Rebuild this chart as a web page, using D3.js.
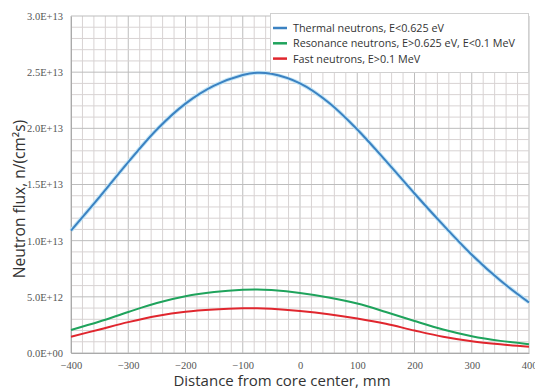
<!DOCTYPE html>
<html>
<head>
<meta charset="utf-8">
<script src="https://cdn.jsdelivr.net/npm/d3@7"></script>
<style>
  body { margin: 0; background: #fff; }
  svg { display: block; }
</style>
</head>
<body>
<script>
// ------------------------------------------ Data ------------------------------------------//
var distance = [-400, -350, -300, -250, -200, -150, -100, -75, -50, 0, 50, 100, 150, 200, 250, 300, 350, 400];

// flux values in units of 1E+12 n/(cm2 s)
var thermal   = [10.9, 13.9, 17.0, 19.9, 22.2, 23.8, 24.75, 24.95, 24.85, 24.0, 22.3, 19.9, 17.1, 14.2, 11.4, 8.75, 6.45, 4.5];
var resonance = [2.05, 2.8, 3.65, 4.45, 5.05, 5.42, 5.63, 5.66, 5.6, 5.35, 4.95, 4.4, 3.65, 2.85, 2.1, 1.5, 1.08, 0.78];
var fast      = [1.45, 2.1, 2.75, 3.3, 3.68, 3.88, 3.98, 3.98, 3.93, 3.73, 3.45, 3.07, 2.6, 2.0, 1.45, 1.05, 0.77, 0.55];

var seriesNames = ["Thermal neutrons, E<0.625 eV", "Resonance neutrons, E>0.625 eV, E<0.1 MeV", "Fast neutrons, E>0.1 MeV"];
var seriesColors = ["#3b82c2", "#1fa35c", "#e0262e"];

var xTicks = [-400, -300, -200, -100, 0, 100, 200, 300, 400];
var yTicks = [0, 5, 10, 15, 20, 25, 30];
var yTickLabels = ["0.0E+00", "5.0E+12", "1.0E+13", "1.5E+13", "2.0E+13", "2.5E+13", "3.0E+13"];

// ------------------------------------------ Setup ------------------------------------------//
var width = 535,
  height = 392;
var margin = { left: 71, right: 6, top: 16, bottom: 39 };

var svg = d3
  .select("body")
  .append("svg")
  .attr("width", width)
  .attr("height", height);

var x = d3.scaleLinear().domain([-400, 400]).range([margin.left, width - margin.right]);
var y = d3.scaleLinear().domain([0, 30]).range([height - margin.bottom, margin.top]);

// grid: minor every 20 mm / 1E+12, major every 100 mm / 5E+12
var grid = svg.append("g");
grid
  .selectAll("line.v")
  .data(d3.range(-400, 401, 20))
  .enter()
  .append("line")
  .attr("x1", function (d) { return x(d); })
  .attr("x2", function (d) { return x(d); })
  .attr("y1", y(0))
  .attr("y2", y(30))
  .attr("stroke", function (d) { return d % 100 === 0 ? "#bdbdbd" : "#d8d3d3"; })
  .attr("stroke-width", 1);

grid
  .selectAll("line.h")
  .data(d3.range(0, 31, 1))
  .enter()
  .append("line")
  .attr("x1", x(-400))
  .attr("x2", x(400))
  .attr("y1", function (d) { return y(d); })
  .attr("y2", function (d) { return y(d); })
  .attr("stroke", function (d) { return d % 5 === 0 ? "#bdbdbd" : "#d8d3d3"; })
  .attr("stroke-width", 1);

// axes
var xAxis = d3.axisBottom(x).tickValues(xTicks).tickSize(0).tickPadding(9);
var yAxis = d3
  .axisLeft(y)
  .tickValues(yTicks)
  .tickSize(0)
  .tickPadding(8)
  .tickFormat(function (d, i) { return yTickLabels[i]; });

var gx = svg.append("g").attr("transform", "translate(0," + y(0) + ")").call(xAxis);
var gy = svg.append("g").attr("transform", "translate(" + x(-400) + ",0)").call(yAxis);

[gx, gy].forEach(function (g) {
  g.select(".domain").attr("stroke", "#aaa");
  g.selectAll("text")
    .attr("fill", "#555")
    .style("font-family", "'Liberation Serif', serif")
    .style("font-size", "10.5px");
});

// axis titles
svg
  .append("text")
  .attr("x", 282)
  .attr("y", 386)
  .attr("text-anchor", "middle")
  .attr("fill", "#333")
  .style("font-family", "'Open Sans', sans-serif")
  .style("font-size", "15px")
  .text("Distance from core center, mm");

svg
  .append("text")
  .attr("transform", "translate(25," + 199 + ") rotate(-90)")
  .attr("text-anchor", "middle")
  .attr("fill", "#333")
  .style("font-family", "'Open Sans', sans-serif")
  .style("font-size", "15.5px")
  .text("Neutron flux, n/(cm²s)");

// ------------------------------------------ Lines ------------------------------------------//
var line = d3
  .line()
  .x(function (d) { return x(d[0]); })
  .y(function (d) { return y(d[1]); })
  .curve(d3.curveCatmullRom.alpha(0.5));

[thermal, resonance, fast].forEach(function (vals, i) {
  var pts = distance.map(function (d, j) { return [d, vals[j]]; });
  if (i === 0) {
    svg
      .append("path")
      .attr("d", line(pts))
      .attr("fill", "none")
      .attr("stroke", "#c4e6f6")
      .attr("stroke-width", 4);
  }
  svg
    .append("path")
    .attr("d", line(pts))
    .attr("fill", "none")
    .attr("stroke", seriesColors[i])
    .attr("stroke-width", 2);
});

// ------------------------------------------ Legend ------------------------------------------//
var legend = svg.append("g");
legend
  .append("rect")
  .attr("x", 270.5)
  .attr("y", 13.5)
  .attr("width", 258)
  .attr("height", 59)
  .attr("fill", "#fff")
  .attr("stroke", "#d0d0d0");

seriesNames.forEach(function (name, i) {
  var ly = 28 + i * 15.3;
  legend
    .append("line")
    .attr("x1", 273)
    .attr("x2", 287)
    .attr("y1", ly)
    .attr("y2", ly)
    .attr("stroke", seriesColors[i])
    .attr("stroke-width", 2.5);
  legend
    .append("text")
    .attr("x", 293)
    .attr("y", ly + 4)
    .attr("fill", "#333")
    .style("font-family", "'Open Sans', sans-serif")
    .style("font-size", "10.8px")
    .text(name);
});
</script>
</body>
</html>
